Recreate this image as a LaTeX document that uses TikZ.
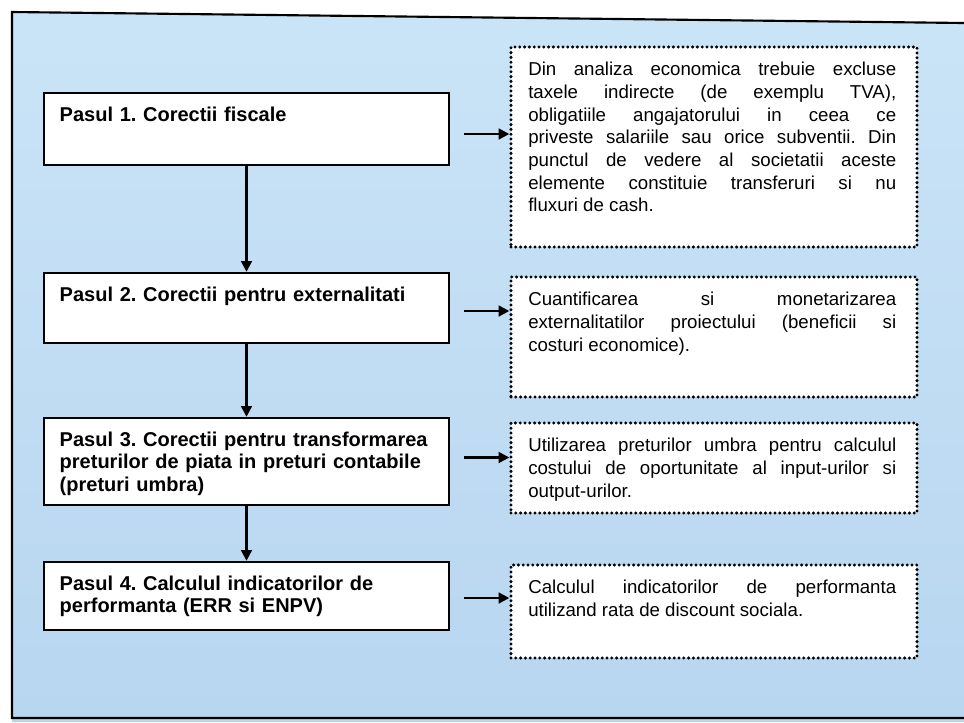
\documentclass[tikz,border=0pt]{standalone}
\usepackage{fontspec}
\setmainfont{Liberation Sans}
\usetikzlibrary{arrows.meta,positioning}
\definecolor{skytop}{RGB}{202,228,247}
\definecolor{skybot}{RGB}{184,214,240}
\newlength\notew
\setlength\notew{276pt}
\newcommand{\jl}[1]{\makebox[\notew][s]{\spaceskip=0pt #1}\\}
\frenchspacing

\begin{document}
\begin{tikzpicture}[x=0.75pt,y=-0.75pt,every node/.style={font=\fontsize{14}{17}\selectfont},
  stepbox/.style={draw,fill=white,line width=1.8pt,minimum width=303.75pt,inner sep=0pt},
  notebox/.style={draw,fill=white,line width=2.5pt,dash pattern=on 0pt off 3.6pt,line cap=round,minimum width=304.5pt,inner sep=0pt},
  steptext/.style={anchor=north west,text width=280pt,align=left,inner xsep=12.5pt,inner ysep=11pt,font=\fontsize{15}{17}\selectfont\bfseries},
  notetext/.style={anchor=north west,text width=\notew,align=justify,inner xsep=14pt,inner ysep=12.5pt},
  link/.style={line width=1.8pt,-{Triangle[length=8pt,width=8pt]}}]
\useasboundingbox (0,0) rectangle (964,722);
\shade[top color=skytop,bottom color=skybot] (12,12)--(964,23)--(964,722)--(12,722)--cycle;
\draw[line width=1.6pt] (964,23)--(12,12)--(12,718)--(964,718);
\node[stepbox,minimum height=54pt] (s1) at (246.5,129) {};
\node[stepbox,minimum height=52.5pt] (s2) at (246.5,308) {};
\node[stepbox,minimum height=65.25pt] (s3) at (246.5,461.5) {};
\node[stepbox,minimum height=51pt] (s4) at (246.5,596) {};
\node[steptext] (s1t) at (s1.north west) {Pasul 1. Corectii fiscale};
\node[steptext] (s2t) at (s2.north west) {Pasul 2. Corectii pentru externalitati};
\node[steptext] (s3t) at (s3.north west) {Pasul 3. Corectii pentru transformarea\\ preturilor de piata in preturi contabile\\ (preturi umbra)};
\node[steptext] (s4t) at (s4.north west) {Pasul 4. Calculul indicatorilor de\\ performanta (ERR si ENPV)};
\node[notebox,minimum height=150pt] (n1) at (714,147) {};
\node[notebox,minimum height=90pt] (n2) at (714,337) {};
\node[notebox,minimum height=67.5pt] (n3) at (714,468) {};
\node[notebox,minimum height=69.75pt] (n4) at (714,611.5) {};
\node[notetext] (n1t) at (n1.north west) {\jl{Din analiza economica trebuie excluse}\jl{taxele indirecte (de exemplu TVA),}\jl{obligatiile angajatorului in ceea ce}\jl{priveste salariile sau orice subventii. Din}\jl{punctul de vedere al societatii aceste}\jl{elemente constituie transferuri si nu}fluxuri de cash.};
\node[notetext] (n2t) at (n2.north west) {\jl{Cuantificarea si monetarizarea}\jl{externalitatilor proiectului (beneficii si}costuri economice).};
\node[notetext] (n3t) at (n3.north west) {\jl{Utilizarea preturilor umbra pentru calculul}\jl{costului de oportunitate al input-urilor si}output-urilor.};
\node[notetext] (n4t) at (n4.north west) {\jl{Calculul indicatorilor de performanta}utilizand rata de discount sociala.};
\foreach \i/\j in {1/2,2/3,3/4}
  \draw[link] (s\i.south) -- (s\j.north);
\foreach \i/\dy in {1/-3.75pt,2/-2.25pt,3/3pt,4/-1.5pt}
  \draw[link,shorten <=10pt] ([yshift=\dy]s\i.east) -- ([yshift=\dy]s\i.east -| n\i.west);
\end{tikzpicture}
\end{document}
